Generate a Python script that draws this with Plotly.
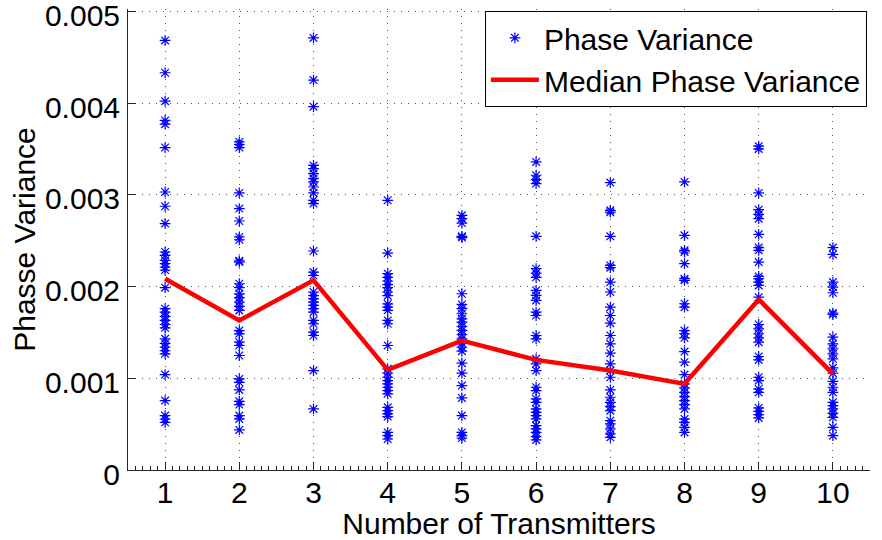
import plotly.graph_objects as go

# ---- data ----
transmitters = [1, 2, 3, 4, 5, 6, 7, 8, 9, 10]

tx1 = [4.683e-3, 4.33e-3, 4.02e-3, 3.81e-3, 3.77e-3, 3.515e-3, 3.03e-3, 2.875e-3, 2.686e-3,
       2.376e-3, 2.34e-3, 2.285e-3, 2.25e-3, 2.21e-3, 2.18e-3, 1.987e-3,
       1.758e-3, 1.72e-3, 1.674e-3, 1.63e-3, 1.586e-3, 1.55e-3,
       1.43e-3, 1.38e-3, 1.338e-3, 1.30e-3, 1.266e-3, 1.04e-3, 0.757e-3,
       0.593e-3, 0.556e-3, 0.52e-3]
tx2 = [3.576e-3, 3.548e-3, 3.515e-3, 3.02e-3, 2.85e-3, 2.714e-3, 2.54e-3, 2.51e-3,
       2.28e-3, 2.266e-3, 2.03e-3, 1.987e-3, 1.92e-3, 1.878e-3, 1.83e-3, 1.783e-3, 1.739e-3,
       1.52e-3, 1.484e-3, 1.393e-3, 1.357e-3, 1.248e-3, 0.993e-3, 0.956e-3, 0.873e-3,
       0.749e-3, 0.713e-3, 0.593e-3, 0.557e-3, 0.437e-3]
tx3 = [4.71e-3, 4.25e-3, 3.96e-3, 3.32e-3, 3.286e-3, 3.23e-3, 3.177e-3, 3.14e-3, 3.085e-3,
       3.02e-3, 2.94e-3, 2.904e-3, 2.387e-3, 2.157e-3, 2.12e-3,
       1.94e-3, 1.90e-3, 1.867e-3, 1.83e-3, 1.794e-3, 1.758e-3, 1.72e-3,
       1.63e-3, 1.594e-3, 1.502e-3, 1.466e-3, 1.084e-3, 0.666e-3]
tx4 = [2.94e-3, 2.365e-3, 2.14e-3, 2.10e-3, 2.06e-3, 2.02e-3, 1.987e-3, 1.94e-3, 1.90e-3,
       1.81e-3, 1.775e-3, 1.74e-3, 1.63e-3, 1.594e-3, 1.357e-3,
       1.103e-3, 1.055e-3, 1.011e-3, 0.975e-3, 0.939e-3, 0.902e-3, 0.866e-3, 0.83e-3,
       0.683e-3, 0.647e-3, 0.611e-3, 0.582e-3, 0.41e-3, 0.374e-3, 0.338e-3]
tx5 = [2.776e-3, 2.74e-3, 2.692e-3, 2.547e-3, 2.533e-3, 1.921e-3,
       1.805e-3, 1.758e-3, 1.703e-3, 1.648e-3, 1.611e-3, 1.564e-3, 1.521e-3, 1.477e-3,
       1.43e-3, 1.382e-3, 1.338e-3, 1.295e-3, 1.164e-3, 1.055e-3, 0.92e-3, 0.786e-3,
       0.593e-3, 0.41e-3, 0.374e-3, 0.349e-3]
tx6 = [3.358e-3, 3.213e-3, 3.166e-3, 3.122e-3, 2.547e-3, 2.194e-3, 2.146e-3, 2.10e-3,
       1.957e-3, 1.903e-3, 1.848e-3, 1.72e-3, 1.684e-3, 1.466e-3, 1.43e-3,
       1.212e-3, 1.157e-3, 1.084e-3, 0.902e-3, 0.866e-3, 0.775e-3, 0.738e-3,
       0.666e-3, 0.629e-3, 0.593e-3, 0.557e-3, 0.484e-3, 0.448e-3, 0.41e-3, 0.364e-3, 0.328e-3]
tx7 = [3.133e-3, 2.83e-3, 2.81e-3, 2.547e-3, 2.23e-3, 2.205e-3, 2.048e-3, 1.94e-3,
       1.775e-3, 1.684e-3, 1.60e-3, 1.466e-3, 1.375e-3, 1.273e-3, 1.157e-3, 1.084e-3, 1.011e-3,
       0.873e-3, 0.793e-3, 0.738e-3, 0.691e-3, 0.647e-3, 0.538e-3, 0.502e-3, 0.448e-3,
       0.393e-3, 0.356e-3]
tx8 = [3.14e-3, 2.558e-3, 2.394e-3, 2.376e-3, 2.249e-3, 2.085e-3, 2.067e-3, 1.812e-3, 1.775e-3,
       1.52e-3, 1.485e-3, 1.441e-3, 1.291e-3, 1.175e-3, 1.04e-3,
       0.939e-3, 0.895e-3, 0.847e-3, 0.80e-3, 0.757e-3, 0.713e-3, 0.666e-3,
       0.557e-3, 0.52e-3, 0.465e-3, 0.41e-3]
tx9 = [3.53e-3, 3.50e-3, 3.02e-3, 2.838e-3, 2.787e-3, 2.74e-3, 2.569e-3, 2.424e-3, 2.394e-3,
       2.266e-3, 2.11e-3, 2.085e-3, 2.048e-3, 2.012e-3, 1.884e-3,
       1.586e-3, 1.539e-3, 1.485e-3, 1.441e-3, 1.393e-3, 1.237e-3, 1.20e-3,
       1.011e-3, 0.975e-3, 0.884e-3, 0.847e-3, 0.677e-3, 0.64e-3, 0.604e-3, 0.568e-3]
tx10 = [2.424e-3, 2.35e-3, 2.048e-3, 1.994e-3, 1.932e-3, 1.71e-3, 1.695e-3,
        1.448e-3, 1.375e-3, 1.321e-3, 1.266e-3, 1.212e-3, 1.114e-3, 1.055e-3,
        0.967e-3, 0.902e-3, 0.847e-3, 0.738e-3, 0.702e-3, 0.666e-3, 0.618e-3, 0.574e-3,
        0.465e-3, 0.374e-3]

median_variance = [2.085e-3, 1.63e-3, 2.067e-3, 1.092e-3, 1.41e-3, 1.20e-3, 1.084e-3, 0.939e-3, 1.859e-3, 1.048e-3]

y_tickvals = [0, 0.001, 0.002, 0.003, 0.004, 0.005]
y_ticktext = ["0", "0.001", "0.002", "0.003", "0.004", "0.005"]
x_tickvals = transmitters
x_ticktext = [str(v) for v in transmitters]

columns = [tx1, tx2, tx3, tx4, tx5, tx6, tx7, tx8, tx9, tx10]
scatter_x = []
scatter_y = []
for t, vals in zip(transmitters, columns):
    scatter_x += [t] * len(vals)
    scatter_y += vals

FONT = "Liberation Sans, Arial, Helvetica, sans-serif"
FS = 30

fig = go.Figure()
fig.add_trace(go.Scatter(
    x=scatter_x, y=scatter_y, mode="markers", name="Phase Variance",
    marker=dict(symbol="asterisk-open", size=9, color="#0000ff",
                line=dict(color="#0000ff", width=1.2)),
))
fig.add_trace(go.Scatter(
    x=transmitters, y=median_variance, mode="lines", name="Median Phase Variance",
    line=dict(color="#ff0000", width=4.5),
))

axis_common = dict(
    showline=True, linecolor="#262626", linewidth=1,
    showgrid=True, gridcolor="#555555", gridwidth=1, griddash="1px,6px",
    zeroline=False, ticks="inside", ticklen=8, tickcolor="#262626",
    tickfont=dict(family=FONT, size=FS, color="#000000"),
    mirror=False, automargin=False, ticklabeloverflow="allow",
)

fig.update_xaxes(
    range=[0.5, 10.5], tickvals=x_tickvals, ticktext=x_ticktext,
    minor=dict(ticks="inside", ticklen=4, dtick=0.1, tick0=0.5, tickcolor="#262626", showgrid=False),
    title=dict(text="Number of Transmitters", font=dict(family=FONT, size=FS, color="#000000"), standoff=0),
    ticklabelstandoff=-4,
    **axis_common,
)
fig.update_yaxes(
    range=[0, 0.005025], tickvals=y_tickvals, ticktext=y_ticktext,
    title=dict(text="Phasse Variance", font=dict(family=FONT, size=FS, color="#000000"), standoff=0),
    ticklabelstandoff=1, ticklabelshift=4,
    **axis_common,
)

fig.update_layout(
    width=882, height=540,
    margin=dict(l=128, r=12, t=9, b=70),
    plot_bgcolor="#ffffff", paper_bgcolor="#ffffff",
    font=dict(family=FONT, size=FS, color="#000000"),
    legend=dict(
        x=0.481, y=0.996, xanchor="left", yanchor="top",
        bgcolor="#ffffff", bordercolor="#000000", borderwidth=1,
        font=dict(family=FONT, size=FS, color="#000000"),
        tracegroupgap=0, itemwidth=48,
    ),
    showlegend=True,
)

fig.write_html("out.html")
